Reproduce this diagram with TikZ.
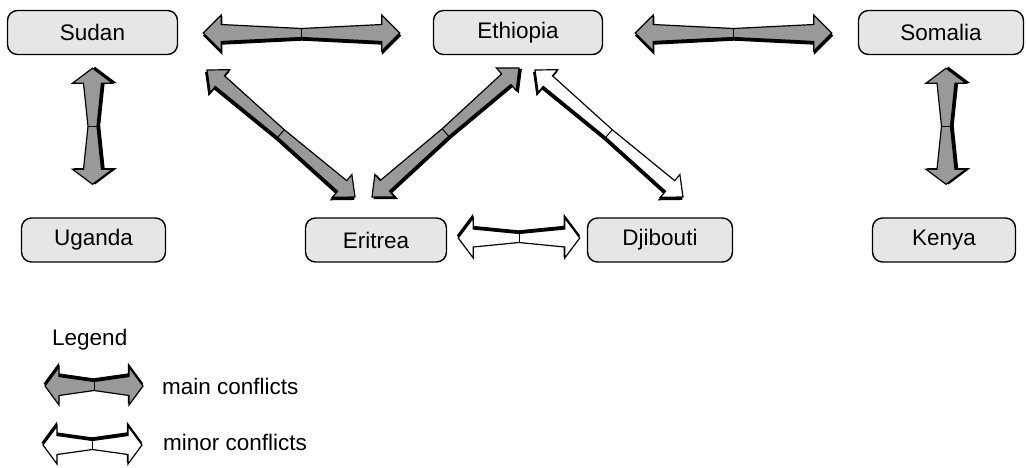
\documentclass[tikz,border=0pt]{standalone}
\usepackage{fontspec}
\setmainfont{Liberation Sans}
\usetikzlibrary{calc}
\definecolor{boxgray}{RGB}{230,230,230}
\definecolor{arrowgray}{RGB}{153,153,153}
\tikzset{
  country/.style={draw=black, line width=1.4pt, fill=boxgray, rounded corners=10pt,
    minimum height=44pt, inner sep=0pt, font=\fontsize{22.5}{27}\selectfont},
  conf/.style={draw=black, line width=1.2pt, line join=miter},
  confshadow/.style={fill=black, draw=black, line width=1.2pt},
  confmid/.style={draw=black, line width=1pt},
  legtext/.style={anchor=base west, inner sep=0pt, font=\fontsize{22.5}{27}\selectfont}
}
% #1 start, #2 end, #3 fill, #4 head length, #5 head half width, #6 shaft half width at head, #7 shaft half width at middle
\newcommand\conflictarrow[7]{%
  \pgfpointanchor{#1}{center}\pgfgetlastxy{\cflax}{\cflay}%
  \pgfpointanchor{#2}{center}\pgfgetlastxy{\cflbx}{\cflby}%
  \pgfmathsetmacro\cflang{atan2(\cflby-\cflay,\cflbx-\cflax)}%
  \pgfmathsetmacro\cfllen{veclen(\cflbx-\cflax,\cflby-\cflay)}%
  \begin{scope}[shift={(\cflax,\cflay)},rotate=\cflang]
    \path[confshadow, shift={(0.6,2.6)}] (0,0) -- (#4,#5) -- (#4,#6) -- (\cfllen/2,#7) -- (\cfllen-#4,#6) -- (\cfllen-#4,#5) -- (\cfllen,0)
      -- (\cfllen-#4,-#5) -- (\cfllen-#4,-#6) -- (\cfllen/2,-#7) -- (#4,-#6) -- (#4,-#5) -- cycle;
    \path[conf, fill=#3] (0,0) -- (#4,#5) -- (#4,#6) -- (\cfllen/2,#7) -- (\cfllen-#4,#6) -- (\cfllen-#4,#5) -- (\cfllen,0)
      -- (\cfllen-#4,-#5) -- (\cfllen-#4,-#6) -- (\cfllen/2,-#7) -- (#4,-#6) -- (#4,-#5) -- cycle;
    \path[confmid] (\cfllen/2,-#7) -- (\cfllen/2,#7);
  \end{scope}}
\begin{document}
\begin{tikzpicture}[x=1pt,y=-1pt]
\useasboundingbox (0,0) rectangle (1026,467);
% countries
\node[country, minimum width=170pt] (sudan) at (92.5,32.5) {Sudan};
\node[country, minimum width=169pt] (ethiopia) at (518,32.5) {Ethiopia};
\node[country, minimum width=165pt] (somalia) at (941,32.5) {Somalia};
\node[country, minimum width=144pt] (uganda) at (93.5,240) {Uganda};
\node[country, minimum width=141pt] (eritrea) at (376,240) {Eritrea};
\node[country, minimum width=145pt] (djibouti) at (660,240) {Djibouti};
\node[country, minimum width=143pt] (kenya) at (944,240) {Kenya};
% arrow end points
\coordinate (se1) at ($(sudan.east)+(25,0.5)$);
\coordinate (se2) at ($(ethiopia.west)+(-33,0.5)$);
\coordinate (es1) at ($(ethiopia.east)+(32,0.5)$);
\coordinate (es2) at ($(somalia.west)+(-26,0.5)$);
\coordinate (su1) at ($(uganda.north)+(-1,-33)$);
\coordinate (su2) at ($(sudan.south)+(0,13)$);
\coordinate (sk1) at ($(kenya.north)+(2,-33)$);
\coordinate (sk2) at ($(somalia.south)+(5,13)$);
\coordinate (ser1) at (207,70);
\coordinate (ser2) at (355,197);
\coordinate (eer1) at (372,197);
\coordinate (eer2) at (519,68);
\coordinate (ed1) at (535,70);
\coordinate (ed2) at (683,197);
\coordinate (erd1) at ($(djibouti.west)+(-7,-2)$);
\coordinate (erd2) at ($(eritrea.east)+(11,-2)$);
% main conflicts
\conflictarrow{se1}{se2}{arrowgray}{18}{18}{8.5}{4.5}
\conflictarrow{es1}{es2}{arrowgray}{18}{18}{8.5}{4.5}
\conflictarrow{su1}{su2}{arrowgray}{15}{20}{9}{4.5}
\conflictarrow{sk1}{sk2}{arrowgray}{15}{20}{9}{4.5}
\conflictarrow{ser1}{ser2}{arrowgray}{17}{15}{7}{5}
\conflictarrow{eer1}{eer2}{arrowgray}{17}{15}{7}{5}
% minor conflicts
\conflictarrow{ed1}{ed2}{white}{17}{15}{7}{5}
\conflictarrow{erd1}{erd2}{white}{15}{20}{9}{4.5}
% legend
\node[legtext] (legend) at (52,345) {Legend};
\coordinate (lm1) at (143,386);
\coordinate (lm2) at (45,386);
\coordinate (ln1) at (142,445);
\coordinate (ln2) at (43,445);
\conflictarrow{lm1}{lm2}{arrowgray}{14}{19}{9.5}{4.5}
\conflictarrow{ln1}{ln2}{white}{14}{19}{9.5}{4.5}
\node[legtext] (mainlab) at (162,394) {main conflicts};
\node[legtext] (minorlab) at (163,450) {minor conflicts};
\end{tikzpicture}
\end{document}
